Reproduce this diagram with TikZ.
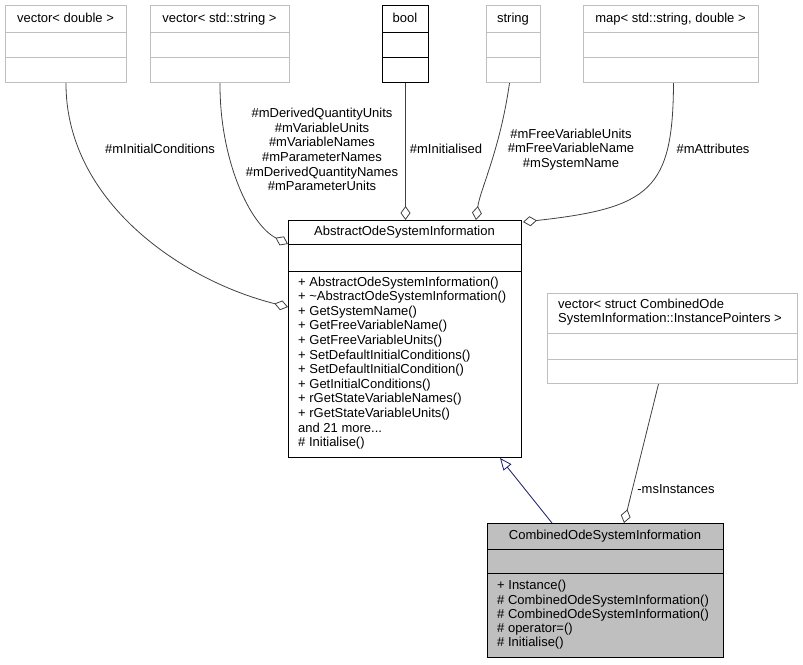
\documentclass[tikz,border=0pt]{standalone}
\usepackage{fontspec}
\setmainfont{Liberation Sans}
\usetikzlibrary{arrows.meta,calc}
\definecolor{boxgray}{HTML}{BFBFBF}
\definecolor{edgegray}{HTML}{404040}
\definecolor{navyblue}{HTML}{191970}
\begin{document}
\begin{tikzpicture}[x=1pt,y=-1pt,
  every node/.style={font=\fontsize{13}{14.6}\selectfont},
  lbox/.style={draw=boxgray, line width=1pt, anchor=north west, inner sep=0pt, fill=white},
  dbox/.style={draw=black, line width=1pt, anchor=north west, inner sep=0pt, fill=white},
  ttl/.style={inner sep=0pt, text height=9.5pt, text depth=2.5pt},
  mem/.style={inner sep=0pt, align=left, anchor=west},
  lab/.style={inner sep=0pt, align=center},
  lsep/.style={draw=boxgray, line width=1pt},
  dsep/.style={draw=black, line width=1pt},
  edge/.style={draw=edgegray, line width=0.8pt, -{Diamond[open,length=14pt,width=10pt]}},
  inh/.style={draw=navyblue, line width=0.8pt, -{Triangle[open,length=12pt,width=10pt]}}
]
\useasboundingbox (0,0) rectangle (803,664);

% top boxes
\node[lbox, minimum width=121pt, minimum height=77pt] (vd) at (5,5) {};
\node[ttl] (vdt) at (65.5,18.5) {vector< double >};
\draw[lsep] ($(vd.north west)+(0,27)$) -- ($(vd.north east)+(0,27)$);
\draw[lsep] ($(vd.north west)+(0,52)$) -- ($(vd.north east)+(0,52)$);

\node[lbox, minimum width=139pt, minimum height=77pt] (vs) at (150,5) {};
\node[ttl] (vst) at (219.5,18.5) {vector< std::string >};
\draw[lsep] ($(vs.north west)+(0,27)$) -- ($(vs.north east)+(0,27)$);
\draw[lsep] ($(vs.north west)+(0,52)$) -- ($(vs.north east)+(0,52)$);

\node[dbox, minimum width=46pt, minimum height=77pt] (bool) at (382,5) {};
\node[ttl] (boolt) at (405,18.5) {bool};
\draw[dsep] ($(bool.north west)+(0,27)$) -- ($(bool.north east)+(0,27)$);
\draw[dsep] ($(bool.north west)+(0,52)$) -- ($(bool.north east)+(0,52)$);

\node[lbox, minimum width=54pt, minimum height=77pt] (str) at (486,5) {};
\node[ttl] (strt) at (513,18.5) {string};
\draw[lsep] ($(str.north west)+(0,27)$) -- ($(str.north east)+(0,27)$);
\draw[lsep] ($(str.north west)+(0,52)$) -- ($(str.north east)+(0,52)$);

\node[lbox, minimum width=175pt, minimum height=77pt] (map) at (583,5) {};
\node[ttl] (mapt) at (670.5,18.5) {map< std::string, double >};
\draw[lsep] ($(map.north west)+(0,27)$) -- ($(map.north east)+(0,27)$);
\draw[lsep] ($(map.north west)+(0,52)$) -- ($(map.north east)+(0,52)$);

% abstract box
\node[dbox, minimum width=233pt, minimum height=237pt] (abs) at (288,220) {};
\node[ttl] (abst) at (404.5,232) {AbstractOdeSystemInformation};
\draw[dsep] ($(abs.north west)+(0,24)$) -- ($(abs.north east)+(0,24)$);
\draw[dsep] ($(abs.north west)+(0,51)$) -- ($(abs.north east)+(0,51)$);
\node[mem] (absm) at (298,363) {+ AbstractOdeSystemInformation()\\
+ \textasciitilde AbstractOdeSystemInformation()\\
+ GetSystemName()\\
+ GetFreeVariableName()\\
+ GetFreeVariableUnits()\\
+ SetDefaultInitialConditions()\\
+ SetDefaultInitialCondition()\\
+ GetInitialConditions()\\
+ rGetStateVariableNames()\\
+ rGetStateVariableUnits()\\
and 21 more...\\
\# Initialise()};

% vector<struct> box
\node[lbox, minimum width=250pt, minimum height=90pt] (vp) at (547,293) {};
\node[mem, align=left, font=\fontsize{13}{14}\selectfont] (vpt) at (558,312.5) {vector< struct CombinedOde\\SystemInformation::InstancePointers >};
\draw[lsep] ($(vp.north west)+(0,40)$) -- ($(vp.north east)+(0,40)$);
\draw[lsep] ($(vp.north west)+(0,66)$) -- ($(vp.north east)+(0,66)$);

% combined box
\node[dbox, fill=boxgray, minimum width=236pt, minimum height=134pt] (comb) at (487,523) {};
\node[ttl] (combt) at (605,536) {CombinedOdeSystemInformation};
\draw[dsep] ($(comb.north west)+(0,26)$) -- ($(comb.north east)+(0,26)$);
\draw[dsep] ($(comb.north west)+(0,50)$) -- ($(comb.north east)+(0,50)$);
\node[mem, font=\fontsize{13}{14.3}\selectfont] (combm) at (497,615) {+ Instance()\\
\# CombinedOdeSystemInformation()\\
\# CombinedOdeSystemInformation()\\
\# operator=()\\
\# Initialise()};

% edges
\draw[edge] (vd.south) .. controls (65.5,200) and (180,280) .. ($(abs.north west)+(0,87)$);
\draw[edge] (vs.south) .. controls (219.5,160) and (250,225) .. ($(abs.north west)+(0,24)$);
\draw[edge] (bool.south) -- (bool.south |- abs.north);
\draw[edge] ($(str.south)+(-4,0)$) .. controls (500,150) and (480,190) .. ($(abs.north west)+(188,0)$);
\draw[edge] ($(map.south)+(2.5,0)$) .. controls (673,190) and (650,208) .. ($(abs.north east)+(1,2)$);
\draw[edge] ($(vp.south)+(-14,0)$) -- ($(comb.north west)+(137,0)$);
\draw[inh] ($(comb.north west)+(65,0)$) -- ($(abs.south west)+(212,0)$);

% labels
\node[lab] (l1) at (160,149) {\#mInitialConditions};
\node[lab] (l2) at (322,149.5) {\#mDerivedQuantityUnits\\\#mVariableUnits\\\#mVariableNames\\\#mParameterNames\\\#mDerivedQuantityNames\\\#mParameterUnits};
\node[lab] (l3) at (446,149) {\#mInitialised};
\node[lab] (l4) at (571,149.5) {\#mFreeVariableUnits\\\#mFreeVariableName\\\#mSystemName};
\node[lab] (l5) at (713,149) {\#mAttributes};
\node[lab] (l6) at (676,489) {-msInstances};
\end{tikzpicture}
\end{document}
